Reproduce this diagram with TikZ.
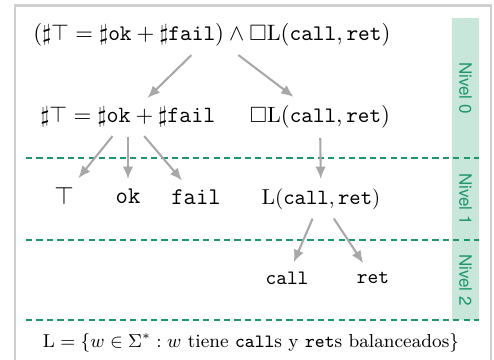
\documentclass[tikz,border=0pt]{standalone}
\usepackage{amsmath,amssymb}
\usepackage{fontspec}
\newfontfamily\nivelfont{TeX Gyre Heros}
\usepackage{tikz}
\usetikzlibrary{arrows.meta}

\definecolor{nivelgreen}{HTML}{1E9670}
\definecolor{nivelband}{HTML}{C8E6DA}
\definecolor{arrowgray}{HTML}{A8A8A8}
\definecolor{framegray}{HTML}{CFCFCF}

\begin{document}
\begin{tikzpicture}[x=0.48pt,y=-0.48pt,
    fs/.style={font=\fontsize{#1}{#1}\selectfont},
    arr/.style={-{Latex[length=6pt,width=5pt]}, draw=arrowgray, line width=1pt, shorten <=1pt, shorten >=1pt},
    nivline/.style={draw=nivelgreen, line width=0.8pt, dash pattern=on 3pt off 2pt},
    nivlabel/.style={rotate=-90, text=nivelgreen, font=\nivelfont\fontsize{8.2}{9}\selectfont}]

    \useasboundingbox (0,0) rectangle (494,360);
    \draw [framegray, line width=1.4pt] (15,5.5) rectangle (491,364);
    \fill [nivelband] (452,18) rectangle (479,320);

    \draw [nivline] (26,158) -- (479,158);
    \draw [nivline] (26,240) -- (479,240);
    \draw [nivline] (26,320) -- (479,320);

    \node [nivlabel] (n0) at (465.5,88) {Nivel 0};
    \node [nivlabel] (n1) at (465.5,199) {Nivel 1};
    \node [nivlabel] (n2) at (465.5,280) {Nivel 2};

    \node [fs=10.7] (root) at (212,35) {$(\sharp\top = \sharp\mathtt{ok} + \sharp\mathtt{fail}) \wedge \Box\mathrm{L}(\mathtt{call},\mathtt{ret})$};
    \node [fs=11.2] (a) at (128,117) {$\sharp\top = \sharp\mathtt{ok} + \sharp\mathtt{fail}$};
    \node [fs=10.6] (b) at (320,117) {$\Box\mathrm{L}(\mathtt{call},\mathtt{ret})$};
    \node [fs=11.5] (c) at (64,196) {$\top$};
    \node [fs=11.5] (d) at (128,196) {$\mathtt{ok}$};
    \node [fs=11.5] (e) at (196,197) {$\mathtt{fail}$};
    \node [fs=10.4] (f) at (321,199) {$\mathrm{L}(\mathtt{call},\mathtt{ret})$};
    \node [fs=9.8] (g) at (287,278) {$\mathtt{call}$};
    \node [fs=9.8] (h) at (373,278) {$\mathtt{ret}$};
    \node [fs=9.0] (leg) at (251,343) {$\mathrm{L} = \{w \in \Sigma^* : w \text{ tiene } \mathtt{call}\text{s y } \mathtt{ret}\text{s balanceados}\}$};

    \draw [arr] (root) to (a);
    \draw [arr] (root) to (b);
    \draw [arr] (a) to (c);
    \draw [arr] (a) to (d);
    \draw [arr] (a) to (e);
    \draw [arr] (b) to (f);
    \draw [arr] (f) to (g);
    \draw [arr] (f) to (h);

\end{tikzpicture}
\end{document}
